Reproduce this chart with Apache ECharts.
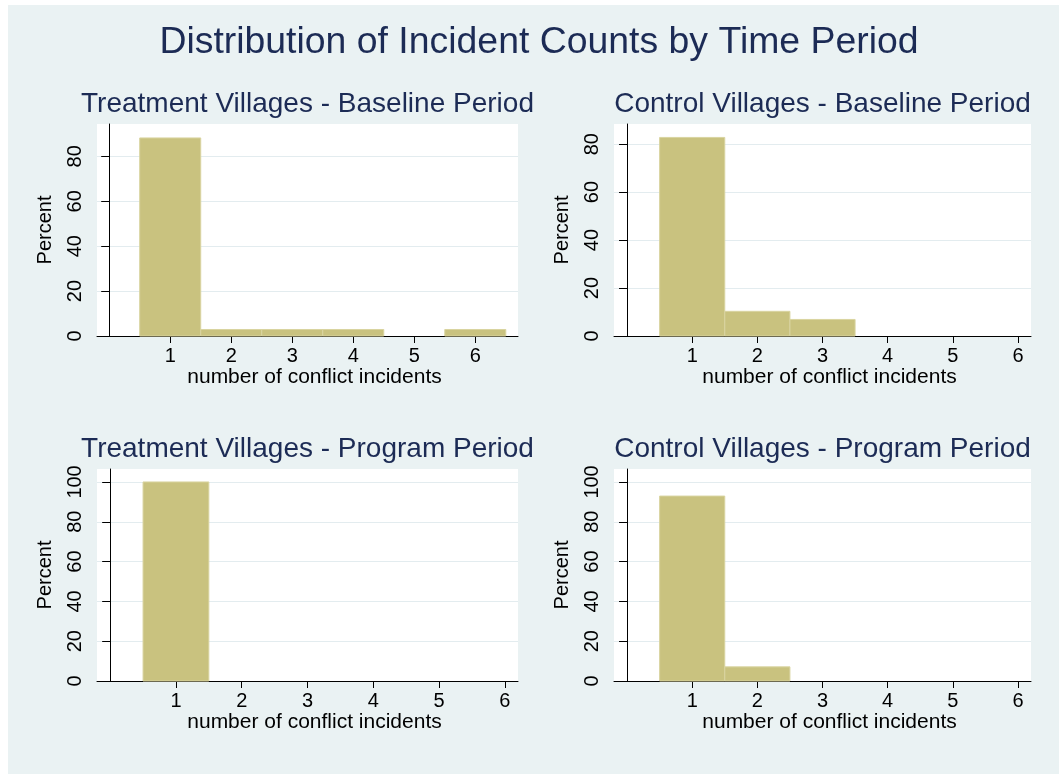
<!DOCTYPE html>
<html>
<head>
<meta charset="utf-8">
<script src="https://cdn.jsdelivr.net/npm/echarts@6/dist/echarts.min.js"></script>
<style>
  html, body { margin: 0; padding: 0; background: #ffffff; }
  #bg { position: absolute; left: 8px; top: 5px; width: 1051px; height: 769px; background: #EAF2F3; }
  #chart { position: absolute; left: 0; top: 0; width: 1059px; height: 774px; }
</style>
</head>
<body>
<div id="bg"></div>
<div id="chart"></div>
<script>
// ---- data ----
const mainTitle = 'Distribution of Incident Counts by Time Period';
const panelTitles = [
  'Treatment Villages - Baseline Period',
  'Control Villages - Baseline Period',
  'Treatment Villages - Program Period',
  'Control Villages - Program Period'
];
const incidentCounts = [1, 2, 3, 4, 5, 6];
const treatBaseline = [88.2, 2.9, 2.9, 2.9, 0, 2.9];
const controlBaseline = [82.8, 10.3, 6.9, 0, 0, 0];
const treatProgram = [100, 0, 0, 0, 0, 0];
const controlProgram = [92.9, 7.1, 0, 0, 0, 0];
const xTicks = [1, 2, 3, 4, 5, 6];
const yTicksTop = [0, 20, 40, 60, 80];
const yTicksBottom = [0, 20, 40, 60, 80, 100];
const xAxisTitle = 'number of conflict incidents';
const yAxisTitle = 'Percent';

// ---- layout ----
const grids = [
  { left: 97, top: 124, width: 421, height: 212 },
  { left: 614, top: 124, width: 417, height: 212 },
  { left: 97, top: 469, width: 421, height: 212 },
  { left: 614, top: 469, width: 417, height: 212 }
];
const seriesData = [treatBaseline, controlBaseline, treatProgram, controlProgram];
const xMax = [6.7, 6.2, 6.2, 6.2];
const yMax = [94.4, 88.4, 106.5, 106.5];
const yTicks = [yTicksTop, yTicksTop, yTicksBottom, yTicksBottom];

const FONT = "'Liberation Sans', Arial, Helvetica, sans-serif";
const NAVY = '#1C2B55';
const BAR_FILL = '#C9C27F';
const BAR_LINE = '#D9D4A0';

const chart = echarts.init(document.getElementById('chart'), null, { renderer: 'canvas' });

const titles = [{
  text: mainTitle,
  left: 539, top: 24, textAlign: 'center', padding: 0,
  textStyle: { fontFamily: FONT, fontSize: 37.4, fontWeight: 'normal', color: NAVY }
}];
grids.forEach((g, i) => {
  titles.push({
    text: panelTitles[i],
    left: g.left + g.width / 2, top: g.top - 33.5, textAlign: 'center', padding: 0,
    textStyle: { fontFamily: FONT, fontSize: 28, fontWeight: 'normal', color: NAVY }
  });
});

const xAxes = grids.map((g, i) => ({
  gridIndex: i, type: 'value', min: -0.2, max: xMax[i],
  name: xAxisTitle, nameLocation: 'middle', nameGap: 31,
  nameTextStyle: { fontFamily: FONT, fontSize: 21, color: '#000', padding: [0, 0, 0, 14] },
  axisLine: { show: true, onZero: false, lineStyle: { color: '#000', width: 1 } },
  axisTick: { show: true, length: 7, customValues: xTicks, lineStyle: { color: '#000' } },
  axisLabel: { customValues: xTicks, fontFamily: FONT, fontSize: 20, color: '#000', margin: 10 },
  splitLine: { show: false }
}));

const yAxes = grids.map((g, i) => ({
  gridIndex: i, type: 'value', min: 0, max: yMax[i], interval: 20,
  name: yAxisTitle, nameLocation: 'middle', nameGap: 42, nameRotate: 90,
  nameTextStyle: { fontFamily: FONT, fontSize: 20, color: '#000' },
  axisLine: { show: true, lineStyle: { color: '#000', width: 1 } },
  axisTick: { show: true, length: 8, customValues: yTicks[i], lineStyle: { color: '#000' } },
  axisLabel: { customValues: yTicks[i], rotate: 90, fontFamily: FONT, fontSize: 20, color: '#000', margin: 12 },
  splitLine: { show: true, lineStyle: { color: '#E3ECEF', width: 1 } }
}));

const series = seriesData.map((vals, i) => ({
  type: 'custom',
  xAxisIndex: i, yAxisIndex: i,
  data: incidentCounts.map((c, k) => [c, vals[k]]),
  renderItem: function (params, api) {
    const x = api.value(0), y = api.value(1);
    if (!y) return null;
    const p0 = api.coord([x - 0.5, y]);
    const p1 = api.coord([x + 0.5, 0]);
    return {
      type: 'rect',
      shape: { x: p0[0], y: p0[1], width: p1[0] - p0[0], height: p1[1] - p0[1] },
      style: { fill: BAR_FILL, stroke: BAR_LINE, lineWidth: 1 }
    };
  },
  z: 1
}));

chart.setOption({
  backgroundColor: 'transparent',
  animation: false,
  title: titles,
  grid: grids.map(g => Object.assign({ show: true, backgroundColor: '#ffffff', borderWidth: 0 }, g)),
  xAxis: xAxes,
  yAxis: yAxes,
  series: series
});
</script>
</body>
</html>
